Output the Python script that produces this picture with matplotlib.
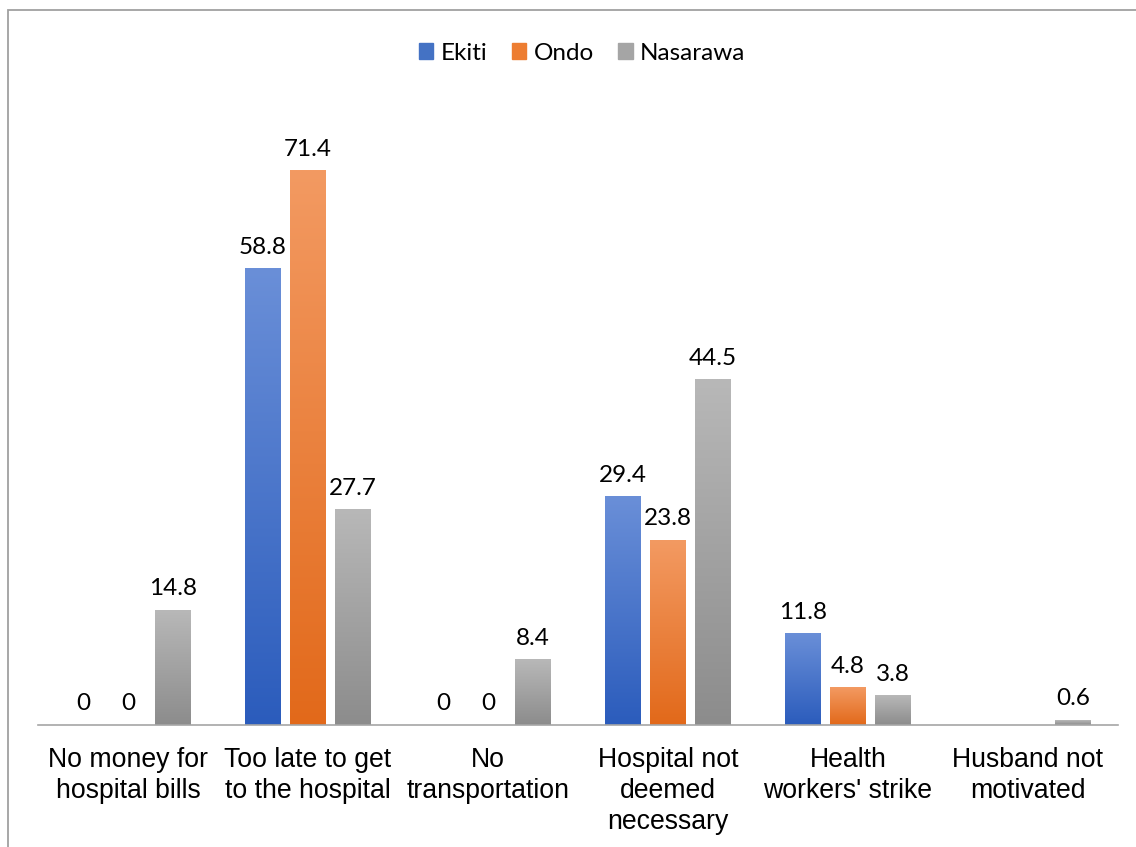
import numpy as np
import matplotlib.pyplot as plt
from matplotlib.colors import LinearSegmentedColormap
from matplotlib.patches import Rectangle

categories = ["No money for\nhospital bills", "Too late to get\nto the hospital",
              "No\ntransportation", "Hospital not\ndeemed\nnecessary",
              "Health\nworkers' strike", "Husband not\nmotivated"]
ekiti = [0, 58.8, 0, 29.4, 11.8, None]
ondo = [0, 71.4, 0, 23.8, 4.8, None]
nasarawa = [14.8, 27.7, 8.4, 44.5, 3.8, 0.6]

series = [("Ekiti", ekiti, "#6a8fd8", "#2b5cbc", "#4472c4"),
          ("Ondo", ondo, "#f39a62", "#e2691a", "#ed7d31"),
          ("Nasarawa", nasarawa, "#b8b8b8", "#8c8c8c", "#a5a5a5")]

fig = plt.figure(figsize=(11.36, 8.47), dpi=100)
ax = fig.add_axes([38 / 1136, 122 / 847, 1080 / 1136, 621 / 847])

x = np.arange(len(categories))
width = 0.2
offsets = [-0.25, 0, 0.25]
grad = np.linspace(0, 1, 256).reshape(-1, 1)

for (name, vals, top, bottom, solid), off in zip(series, offsets):
    cmap = LinearSegmentedColormap.from_list(name, [bottom, top])
    for xi, v in zip(x, vals):
        if v is None:
            continue
        x0 = xi + off - width / 2
        if v > 0:
            ax.imshow(grad, cmap=cmap, origin="lower", aspect="auto",
                      extent=(x0, x0 + width, 0, v), zorder=2,
                      interpolation="bilinear")
        ax.text(xi + off, v + 1.4, f"{v:g}", ha="center", va="bottom",
                fontsize=17.5, family="Lato", color="#000000")
    # proxy artist for the legend
    ax.bar([0], [0], width=0, color=solid, label=name)

ax.set_xlim(-0.5, len(categories) - 0.5)
ax.set_ylim(0, 80)
ax.set_yticks([])
ax.set_xticks(x)
ax.set_xticklabels(categories, fontsize=19.2, family="Liberation Sans",
                   linespacing=1.25)
ax.tick_params(axis="x", length=0, pad=16)
for s in ["top", "right", "left"]:
    ax.spines[s].set_visible(False)
ax.spines["bottom"].set_color("#a6a6a6")
ax.spines["bottom"].set_linewidth(1.2)

handles, labels = ax.get_legend_handles_labels()
handles = [Rectangle((0, 0), 1, 1, color=h.patches[0].get_facecolor()) for h in handles]
fig.legend(handles, labels, loc="center", bbox_to_anchor=(582 / 1136, 1 - 53 / 847),
           ncol=3, frameon=False, prop={"family": "Lato", "size": 17.5},
           handlelength=0.6, handleheight=0.6, handletextpad=0.3, columnspacing=1.0)

# thin frame around the chart area
fig.patches.append(Rectangle((8 / 1136, -0.01), 1.2, 1 - 10 / 847 + 0.01,
                             transform=fig.transFigure, fill=False,
                             edgecolor="#a0a0a0", linewidth=1.3))

fig.savefig("out.png", dpi=100)
